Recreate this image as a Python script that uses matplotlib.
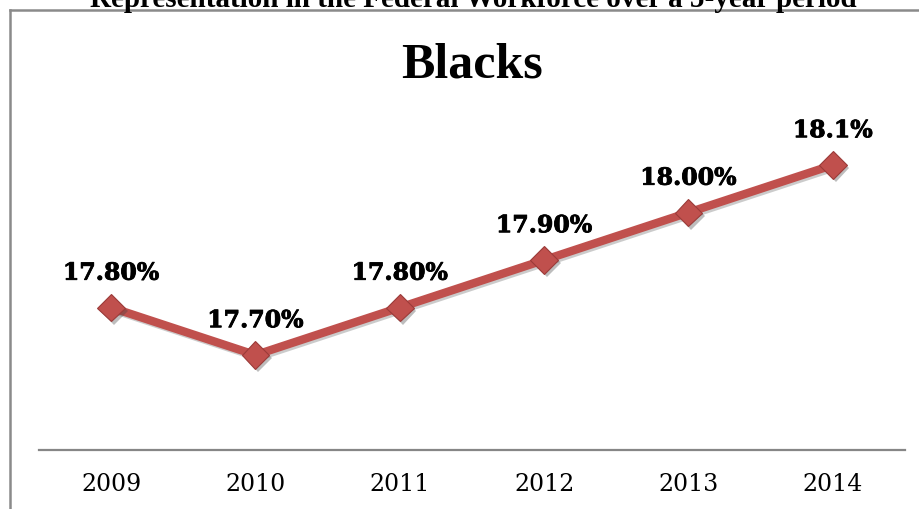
import matplotlib
matplotlib.use("Agg")
import matplotlib.pyplot as plt
import matplotlib.patheffects as pe
from matplotlib.lines import Line2D

years = ["2009", "2010", "2011", "2012", "2013", "2014"]
shares = [17.8, 17.7, 17.8, 17.9, 18.0, 18.1]
labels = ["17.80%", "17.70%", "17.80%", "17.90%", "18.00%", "18.1%"]

W, H, DPI = 920, 510, 100
fig = plt.figure(figsize=(W / DPI, H / DPI), dpi=DPI)
fig.patch.set_facecolor("white")

def fx(px):
    return px / W

def fy(py):
    return 1 - py / H

# plot area
left, right, top, bottom = 39, 905, 118.5, 451
ax = fig.add_axes([fx(left), fy(bottom), fx(right - left), (bottom - top) / H])
ax.set_xlim(-0.5, len(years) - 0.5)
ax.set_ylim(17.5, 18.2)
ax.set_facecolor("none")
for s in ["top", "right", "left"]:
    ax.spines[s].set_visible(False)
ax.spines["bottom"].set_color("#868686")
ax.spines["bottom"].set_linewidth(1.6)
ax.set_yticks([])
ax.set_xticks(range(len(years)))
ax.set_xticklabels(years, family="DejaVu Serif", fontsize=17, color="black")
ax.tick_params(axis="x", length=0, pad=16)

red = "#C0504D"
xs = list(range(len(years)))

line, = ax.plot(xs, shares, color=red, lw=6, solid_capstyle="butt", clip_on=False, zorder=3)
line.set_path_effects([pe.SimpleLineShadow(offset=(1.5, -1.5), shadow_color="#555555", alpha=0.3),
                       pe.Normal()])

marks, = ax.plot(xs, shares, ls="none", marker="D", ms=14, mfc=red, mec="#9b3b39", mew=0.8,
                 clip_on=False, zorder=4)
marks.set_path_effects([pe.SimplePatchShadow(offset=(2, -2.5), shadow_rgbFace="#444444", alpha=0.35),
                        pe.Normal()])

label_fx = [pe.withStroke(linewidth=0.6, foreground="black")]
for x, v, t in zip(xs, shares, labels):
    ax.annotate(t, (x, v), xytext=(0, 20), textcoords="offset points",
                ha="center", va="baseline", family="DejaVu Serif", fontweight="bold",
                fontsize=17, color="black", annotation_clip=False, path_effects=label_fx)

# chart title
fig.text(fx(472), fy(77), "Blacks", ha="center", va="baseline",
         family="Liberation Serif", fontweight="bold", fontsize=36, color="black")

# document heading above the chart frame
fig.text(fx(473), fy(7), "Representation in the Federal Workforce over a 5-year period",
         ha="center", va="baseline", family="Liberation Serif", fontweight="bold",
         fontsize=21, color="black")

# chart frame
frame_col = "#8a8a8a"
fig.add_artist(Line2D([fx(10.5), fx(10.5)], [fy(10.5), fy(H + 5)], color=frame_col, lw=1.8,
                      transform=fig.transFigure))
fig.add_artist(Line2D([fx(10.5), fx(W + 5)], [fy(10.5), fy(10.5)], color=frame_col, lw=1.8,
                      transform=fig.transFigure))

fig.savefig("out.png", dpi=DPI)
